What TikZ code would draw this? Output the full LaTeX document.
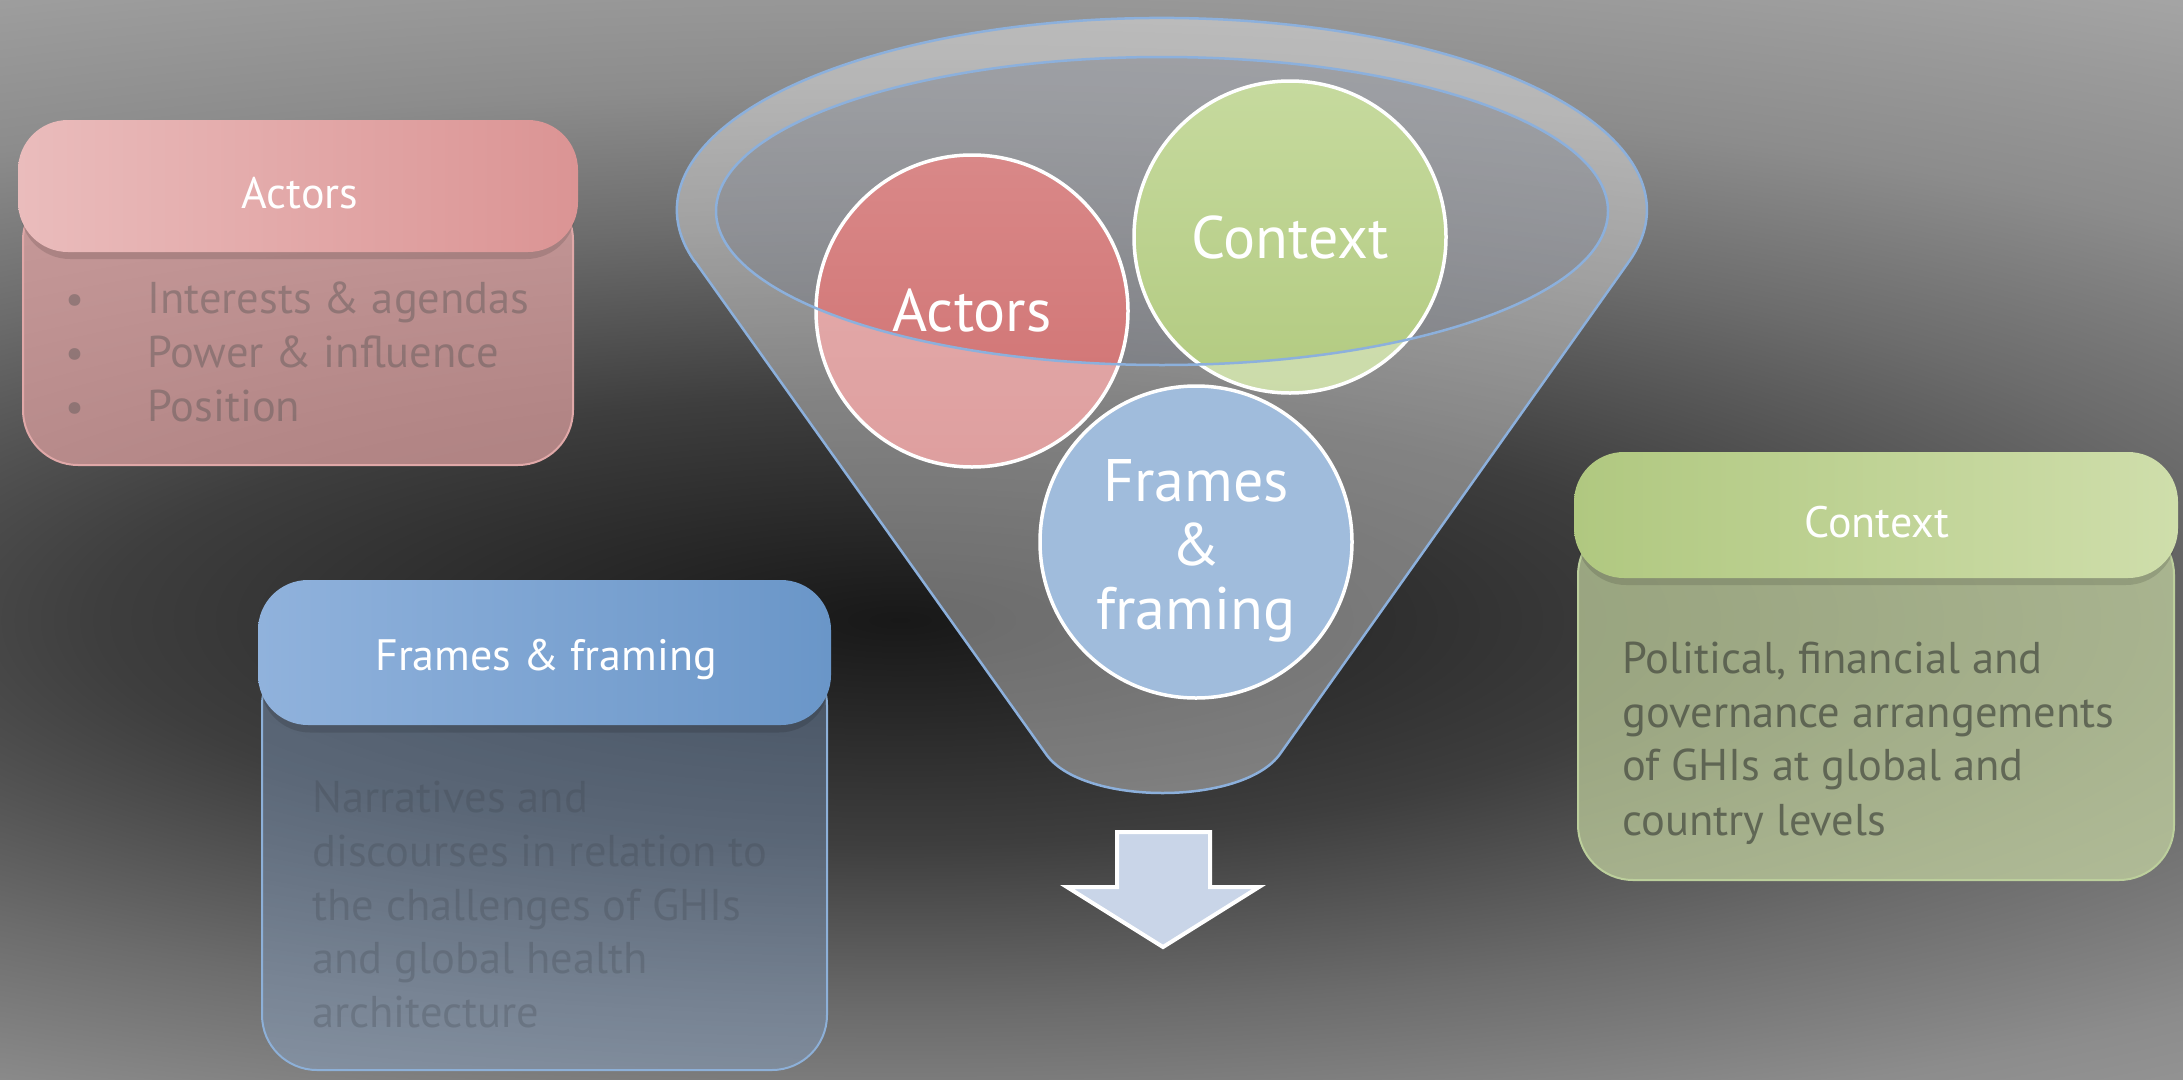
\documentclass[tikz,border=0pt]{standalone}
\usepackage{fontspec}
\setmainfont{PT Sans}
\definecolor{bgA}{HTML}{181818}
\definecolor{bgB}{HTML}{3E3E3E}
\definecolor{bgC}{HTML}{6C6C6C}
\definecolor{bgD}{HTML}{8C8C8C}
\definecolor{bgF}{HTML}{9A9A9A}
\definecolor{bgE}{HTML}{A6A6A6}
\definecolor{funblue}{HTML}{8CB0DC}
\definecolor{innerfill}{HTML}{6E7380}
\definecolor{actTop}{HTML}{D98888}
\definecolor{actBot}{HTML}{CF7070}
\definecolor{ctxTop}{HTML}{C6DA9E}
\definecolor{ctxBot}{HTML}{B2CA80}
\definecolor{frmFill}{HTML}{A0BCDC}
\definecolor{actHL}{HTML}{EABCBC}
\definecolor{actHR}{HTML}{DB9494}
\definecolor{actBody}{HTML}{E4A4A4}
\definecolor{actEdge}{HTML}{E0A8A8}
\definecolor{frmHL}{HTML}{90B2DC}
\definecolor{frmHR}{HTML}{6A96C8}
\definecolor{frmBody}{HTML}{8AAAD4}
\definecolor{frmEdge}{HTML}{8DB0D8}
\definecolor{ctxHL}{HTML}{B0C880}
\definecolor{ctxHR}{HTML}{CFDEAB}
\definecolor{ctxBody}{HTML}{CFE0A8}
\definecolor{ctxEdge}{HTML}{BCCF9C}
\definecolor{arrFill}{HTML}{C9D5E8}
\definecolor{actTxt}{HTML}{505050}
\definecolor{frmTxt}{HTML}{3A4048}
\definecolor{ctxTxt}{HTML}{3C4038}
\pgfdeclareradialshading{bgshade}{\pgfpoint{0bp}{0bp}}{color(0bp)=(bgA); color(7.7bp)=(bgB); color(13.5bp)=(bgC); color(18.3bp)=(bgD); color(22.1bp)=(bgF); color(25bp)=(bgE); color(50bp)=(bgE)}
\tikzset{
  funnelline/.style={draw=funblue, line width=2.5pt},
  cnode/.style={circle, draw=white, line width=3.5pt, minimum size=312pt, inner sep=0pt, text=white, font=\fontsize{60}{64}\selectfont, align=center},
  hdrbox/.style={rectangle, rounded corners=50pt, inner sep=0pt},
  bodybox/.style={rectangle, rounded corners=55pt, inner sep=0pt, line width=2pt},
  shadowbox/.style={rectangle, rounded corners=50pt, inner sep=0pt, fill=black, fill opacity=0.12},
  hdrtxt/.style={anchor=base, inner sep=0pt, text=white, font=\fontsize{44}{50}\selectfont},
  bodytxt/.style={anchor=base west, inner sep=0pt, font=\fontsize{44.5}{54}\selectfont},
  bullettxt/.style={anchor=base, inner sep=0pt, font=\fontsize{42}{54}\selectfont},
  ctxt/.style={inner sep=0pt, text=white, font=\fontsize{60}{64}\selectfont, align=center},
}
\begin{document}
\begin{tikzpicture}[x=1pt,y=-1pt]
\useasboundingbox (0,0) rectangle (2183,1079);
% background
\begin{scope}
  \clip (0,0) rectangle (2183,1079);
  \shade[shading=bgshade] (-1700,-108) rectangle (3500,1348);
\end{scope}
% funnel body
\path[fill=white, fill opacity=0.36, funnelline]
  (695,261.5) -- (1046,754) .. controls (1082,806) and (1243,806) .. (1280,754)
  -- (1629,261.5) arc[start angle=15.57, end angle=-195.57, x radius=485, y radius=192] -- cycle;
% inner opening
\path[fill=innerfill, fill opacity=0.35] (1162,211) ellipse [x radius=446, y radius=154];
% circles
\node[cnode, top color=actTop, bottom color=actBot] (cA) at (972,311) {Actors};
\node[cnode, top color=ctxTop, bottom color=ctxBot] (cC) at (1290,237) {Context};
\node[cnode, fill=frmFill] (cF) at (1196,542) {};
\node[ctxt] (tF) at (1196,551) {Frames\\\&\\framing};
% front of the funnel over the lower parts of the circles
\begin{scope}
  \clip (716,211) arc[start angle=180, end angle=0, x radius=446, y radius=154] -- (1608,800) -- (716,800) -- cycle;
  \fill[white, fill opacity=0.33] (cA.center) circle[radius=156];
  \fill[white, fill opacity=0.33] (cC.center) circle[radius=156];
\end{scope}
\draw[funnelline] (1162,211) ellipse [x radius=446, y radius=154];
% arrow
\draw[fill=arrFill, draw=white, line width=4pt, line join=miter]
  (1117,832) -- (1210,832) -- (1210,887) -- (1259,887) -- (1163,947) -- (1067,887) -- (1117,887) -- cycle;
% Actors box
\node[bodybox, draw=actEdge, fill=actBody, fill opacity=0.7, minimum width=550pt, minimum height=280pt] (aBody) at (298,325) {};
\node[shadowbox, minimum width=556pt, minimum height=132pt] (aShadow) at (298,193) {};
\node[hdrbox, left color=actHL, right color=actHR, minimum width=560pt, minimum height=132pt] (aHead) at (298,186) {};
\node[hdrtxt] (aTitle) at (300,208) {Actors};
\node[bullettxt, text=actTxt, text opacity=0.4] (b1) at (75,313) {•};
\node[bullettxt, text=actTxt, text opacity=0.4] (b2) at (75,367) {•};
\node[bullettxt, text=actTxt, text opacity=0.4] (b3) at (75,421) {•};
\node[bodytxt, text=actTxt, text opacity=0.4] (a1) at (147,313) {Interests \& agendas};
\node[bodytxt, text=actTxt, text opacity=0.4] (a2) at (147,367) {Power \& influence};
\node[bodytxt, text=actTxt, text opacity=0.4] (a3) at (147,421) {Position};
% Frames box
\node[bodybox, draw=frmEdge, fill=frmBody, fill opacity=0.38, minimum width=565pt, minimum height=420pt] (fBody) at (544.5,860) {};
\node[shadowbox, minimum width=569pt, minimum height=145pt] (fShadow) at (544.5,660) {};
\node[hdrbox, left color=frmHL, right color=frmHR, minimum width=573pt, minimum height=145pt] (fHead) at (544.5,652.5) {};
\node[hdrtxt] (fTitle) at (546,670) {Frames \& framing};
\node[bodytxt, text=frmTxt, text opacity=0.25] (f1) at (312,812) {Narratives and};
\node[bodytxt, text=frmTxt, text opacity=0.25] (f2) at (312,866) {discourses in relation to};
\node[bodytxt, text=frmTxt, text opacity=0.25] (f3) at (312,920) {the challenges of GHIs};
\node[bodytxt, text=frmTxt, text opacity=0.25] (f4) at (312,973) {and global health};
\node[bodytxt, text=frmTxt, text opacity=0.25] (f5) at (312,1027) {architecture};
% Context box
\node[bodybox, draw=ctxEdge, fill=ctxBody, fill opacity=0.65, minimum width=596pt, minimum height=360pt] (kBody) at (1876,700) {};
\node[shadowbox, minimum width=600pt, minimum height=126pt] (kShadow) at (1876,522) {};
\node[hdrbox, left color=ctxHL, right color=ctxHR, minimum width=604pt, minimum height=126pt] (kHead) at (1876,515) {};
\node[hdrtxt] (kTitle) at (1877,537) {Context};
\node[bodytxt, text=ctxTxt, text opacity=0.65] (k1) at (1622,673) {Political, financial and};
\node[bodytxt, text=ctxTxt, text opacity=0.65] (k2) at (1622,727) {governance arrangements};
\node[bodytxt, text=ctxTxt, text opacity=0.65] (k3) at (1622,780) {of GHIs at global and};
\node[bodytxt, text=ctxTxt, text opacity=0.65] (k4) at (1622,835) {country levels};
\end{tikzpicture}
\end{document}
